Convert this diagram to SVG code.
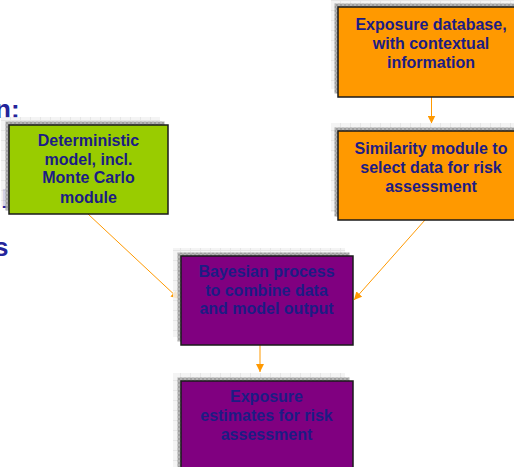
<svg xmlns="http://www.w3.org/2000/svg" width="514" height="467" viewBox="0 0 514 467">
<defs>
<pattern id="grid" width="10" height="10" patternUnits="userSpaceOnUse">
<rect width="10" height="10" fill="#F2F2F2"/>
<path d="M0 0.5H10M0.5 0V10" stroke="#E2E2E2" stroke-width="1"/>
</pattern>
<pattern id="dgrid" width="4" height="4" patternUnits="userSpaceOnUse">
<rect width="4" height="4" fill="#B4B4B4"/>
<rect width="2" height="2" fill="#9E9E9E"/>
<rect x="2" y="2" width="2" height="2" fill="#9E9E9E"/>
</pattern>
<marker id="ah" markerUnits="userSpaceOnUse" markerWidth="8" markerHeight="8" viewBox="0 0 8 8" refX="8" refY="4" orient="auto">
<path d="M0 0L8 4L0 8Z" fill="#FF9900"/>
</marker>
</defs>
<style>
.bg{fill:#FFFFFF}
.lt{fill:url(#grid);fill-opacity:0.85}
.dk{fill:url(#dgrid)}
.box{stroke:#1A1A1A;stroke-width:1.5}
.green{fill:#99CC00}
.orange{fill:#FF9900}
.purple{fill:#800080}
.t{font-family:"Liberation Sans",Arial,sans-serif;font-weight:bold;font-size:16px;fill:#1C1C84;text-anchor:middle}
.side{font-family:"Liberation Sans",Arial,sans-serif;font-weight:bold;font-size:26px;fill:#24249A}
.conn{stroke:#FF9900;stroke-width:1;fill:none;marker-end:url(#ah)}
</style>
<rect class="bg" x="0" y="0" width="514" height="467"/>
<g id="sidetext">
<text class="side" x="-5" y="118">n:</text>
<text class="side" x="1" y="208">l</text>
<text class="side" x="-6" y="256">s</text>
</g>
<g id="connectors">
<line class="conn" x1="431.5" y1="97" x2="431.5" y2="123.5"/>
<line class="conn" x1="88" y1="214" x2="179" y2="299"/>
<line class="conn" x1="425" y1="220" x2="354" y2="300"/>
<line class="conn" x1="260" y1="345" x2="260" y2="372"/>
</g>
<g id="node-deterministic">
<rect class="lt" x="1" y="117" width="159" height="89"/>
<rect class="dk" x="5.5" y="121.5" width="159" height="89"/>
<rect class="box green" x="9" y="125" width="159" height="89"/>
<text class="t" x="88.5" y="145.5">Deterministic</text>
<text class="t" x="88.5" y="164.5">model, incl.</text>
<text class="t" x="88.5" y="183">Monte Carlo</text>
<text class="t" x="88.5" y="202.5">module</text>
</g>
<g id="node-exposure-db">
<rect class="lt" x="331" y="-1" width="186" height="90"/>
<rect class="dk" x="334.5" y="3.5" width="186" height="90"/>
<rect class="box orange" x="338" y="7" width="186" height="90"/>
<text class="t" x="431" y="29.5">Exposure database,</text>
<text class="t" x="431" y="48.5">with contextual</text>
<text class="t" x="431" y="67.5">information</text>
</g>
<g id="node-similarity">
<rect class="lt" x="331" y="123" width="186" height="89"/>
<rect class="dk" x="334.5" y="127.5" width="186" height="89"/>
<rect class="box orange" x="338" y="131" width="186" height="89"/>
<text class="t" x="431" y="153.5">Similarity module to</text>
<text class="t" x="431" y="172.5">select data for risk</text>
<text class="t" x="431" y="191.5">assessment</text>
</g>
<g id="node-bayesian">
<rect class="lt" x="173" y="248" width="172" height="89"/>
<rect class="dk" x="177.5" y="252.5" width="172" height="89"/>
<rect class="box purple" x="181" y="256" width="172" height="89"/>
<text class="t" x="266.5" y="277">Bayesian process</text>
<text class="t" x="266.5" y="295.5">to combine data</text>
<text class="t" x="266.5" y="314">and model output</text>
</g>
<g id="node-estimates">
<rect class="lt" x="173" y="373" width="172" height="100"/>
<rect class="dk" x="177.5" y="377.5" width="172" height="100"/>
<rect class="box purple" x="181" y="381" width="172" height="100"/>
<text class="t" x="266.5" y="401.5">Exposure</text>
<text class="t" x="266.5" y="420.5">estimates for risk</text>
<text class="t" x="266.5" y="439.5">assessment</text>
</g>
</svg>
